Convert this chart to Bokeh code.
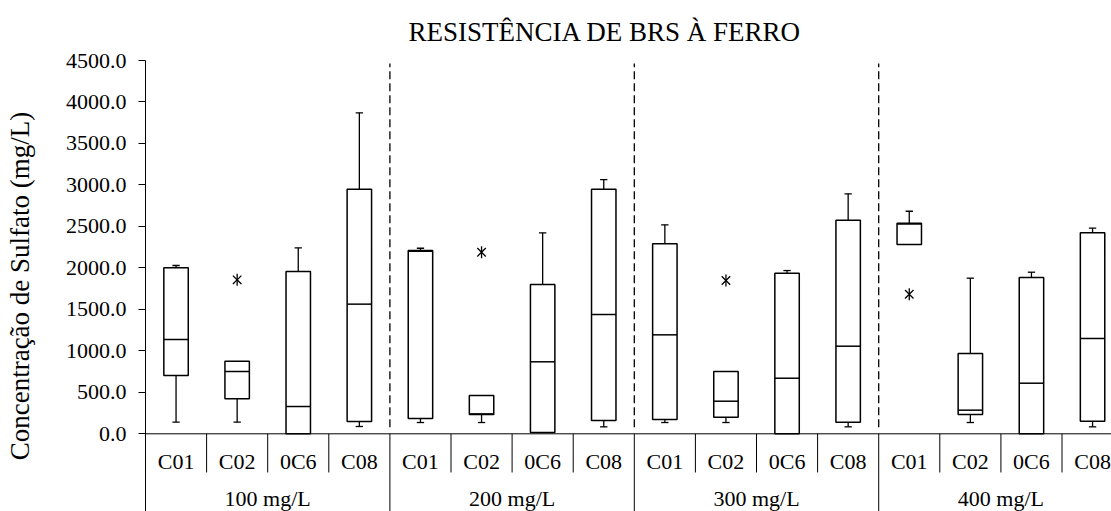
import math
from bokeh.plotting import figure
from bokeh.models import ColumnDataSource, FixedTicker, NumeralTickFormatter, Range1d, Span
from bokeh.embed import file_html
from bokeh.resources import INLINE
from bokeh.core.properties import value

# ---------------- data ----------------
title = "RESISTÊNCIA DE BRS À FERRO"
y_label = "Concentração de Sulfato (mg/L)"
groups = ["100 mg/L", "200 mg/L", "300 mg/L", "400 mg/L"]
samples = ["C01", "C02", "0C6", "C08"]

whisk_low = [140, 140, 0, 88,    136, 136, 16, 84,    136, 136, 0, 84,    2282, 136, 0, 84]
q1        = [703, 422, 0, 148,   184, 232, 16, 160,   172, 200, 0, 140,   2282, 233, 0, 152]
median    = [1137, 751, 329, 1563, 2200, 240, 868, 1438, 1193, 393, 670, 1056, 2530, 285, 610, 1149]
q3        = [2001, 875, 1956, 2949, 2209, 462, 1800, 2949, 2290, 751, 1936, 2575, 2539, 968, 1884, 2423]
whisk_high = [2029, 875, 2242, 3869, 2237, 462, 2423, 3065, 2519, 751, 1968, 2893, 2683, 1876, 1948, 2479]

outlier_box = [1, 5, 9, 12]          # index of the box each outlier belongs to
outlier_val = [1856, 2189, 1848, 1683]

y_ticks = [0, 500, 1000, 1500, 2000, 2500, 3000, 3500, 4000, 4500]

# ---------------- layout ----------------
FONT = "Liberation Serif"
n_sub = len(samples)
n_box = len(groups) * n_sub
x_pos = [i + 0.5 for i in range(n_box)]
half = 0.2
cap = 0.06
Y_BOTTOM = -936.6

p = figure(width=1111, height=511, output_backend="svg", toolbar_location=None,
           x_range=Range1d(0, 15.81), y_range=Range1d(Y_BOTTOM, 4500),
           x_axis_type=None, min_border_left=145, min_border_right=0,
           min_border_top=60, min_border_bottom=0, outline_line_color=None)
p.title.text = title
p.title.text_font = FONT
p.title.text_font_size = "27px"
p.title.text_font_style = "normal"
p.title.align = "left"
p.title.offset = 263
p.title.standoff = 27
p.title.text_color = "black"
p.background_fill_color = "white"
p.grid.visible = False

ax = p.yaxis[0]
ax.ticker = FixedTicker(ticks=y_ticks)
ax.formatter = NumeralTickFormatter(format="0.0")
ax.major_tick_out = 7
ax.major_tick_in = 0
ax.minor_tick_line_color = None
ax.major_label_standoff = 12
ax.major_label_text_font = FONT
ax.major_label_text_font_size = "22px"
ax.major_label_text_font_style = "normal"
ax.major_label_text_color = "black"
ax.axis_line_color = "black"
ax.major_tick_line_color = "black"
ax.axis_label = y_label
ax.axis_label_text_font = FONT
ax.axis_label_text_font_size = "27px"
ax.axis_label_text_font_style = "normal"
ax.axis_label_text_color = "black"
ax.axis_label_standoff = 28

# horizontal axis line at 0
p.add_layout(Span(location=0, dimension="width", line_color="black", line_width=1))

# category table separators
sub_bounds = [i for i in range(1, n_box) if i % n_sub != 0]
grp_bounds = [i for i in range(n_sub, n_box + 1, n_sub)]
p.segment(x0=sub_bounds, x1=sub_bounds, y0=[0] * len(sub_bounds), y1=[-466] * len(sub_bounds),
          line_color="black", line_width=1)
p.segment(x0=grp_bounds, x1=grp_bounds, y0=[0] * len(grp_bounds), y1=[Y_BOTTOM] * len(grp_bounds),
          line_color="black", line_width=1)

# dashed group dividers in plot
dash_x = grp_bounds[:-1]
p.segment(x0=dash_x, x1=dash_x, y0=[80] * len(dash_x), y1=[4464] * len(dash_x),
          line_color="black", line_width=1.3, line_dash="8 4")

# labels
p.text(x=x_pos, y=[-334] * n_box, text=samples * len(groups),
       text_font=value(FONT), text_font_size="22px", text_font_style="normal",
       text_align="center", text_baseline="middle", text_color="black")
p.text(x=[g * n_sub + n_sub / 2 for g in range(len(groups))], y=[-780] * len(groups), text=groups,
       text_font=value(FONT), text_font_size="22px", text_font_style="normal",
       text_align="center", text_baseline="middle", text_color="black")

# boxes
src = ColumnDataSource(dict(x=x_pos, left=[x - half for x in x_pos], right=[x + half for x in x_pos],
                            q1=q1, q3=q3, med=median, lo=whisk_low, hi=whisk_high))
up = [i for i in range(n_box) if whisk_high[i] > q3[i]]
p.segment(x0=[x_pos[i] for i in up], x1=[x_pos[i] for i in up],
          y0=[q3[i] for i in up], y1=[whisk_high[i] for i in up], line_color="black", line_width=1.3)
p.segment(x0=[x_pos[i] - cap for i in up], x1=[x_pos[i] + cap for i in up],
          y0=[whisk_high[i] for i in up], y1=[whisk_high[i] for i in up], line_color="black", line_width=1.3)
dn = [i for i in range(n_box) if whisk_low[i] < q1[i]]
p.segment(x0=[x_pos[i] for i in dn], x1=[x_pos[i] for i in dn],
          y0=[q1[i] for i in dn], y1=[whisk_low[i] for i in dn], line_color="black", line_width=1.3)
p.segment(x0=[x_pos[i] - cap for i in dn], x1=[x_pos[i] + cap for i in dn],
          y0=[whisk_low[i] for i in dn], y1=[whisk_low[i] for i in dn], line_color="black", line_width=1.3)

p.quad(left="left", right="right", bottom="q1", top="q3", source=src,
       fill_color="white", line_color="black", line_width=1.5)
p.segment(x0="left", x1="right", y0="med", y1="med", source=src, line_color="black", line_width=1.5)

# outliers
ox = [x_pos[i] for i in outlier_box]
p.scatter(x=ox, y=outlier_val, marker="x", size=12, line_color="black", line_width=1.3)
p.scatter(x=ox, y=outlier_val, marker="dash", angle=math.pi / 2, size=12, line_color="black", line_width=1.3)

open("out.html", "w").write(file_html(p, INLINE))
